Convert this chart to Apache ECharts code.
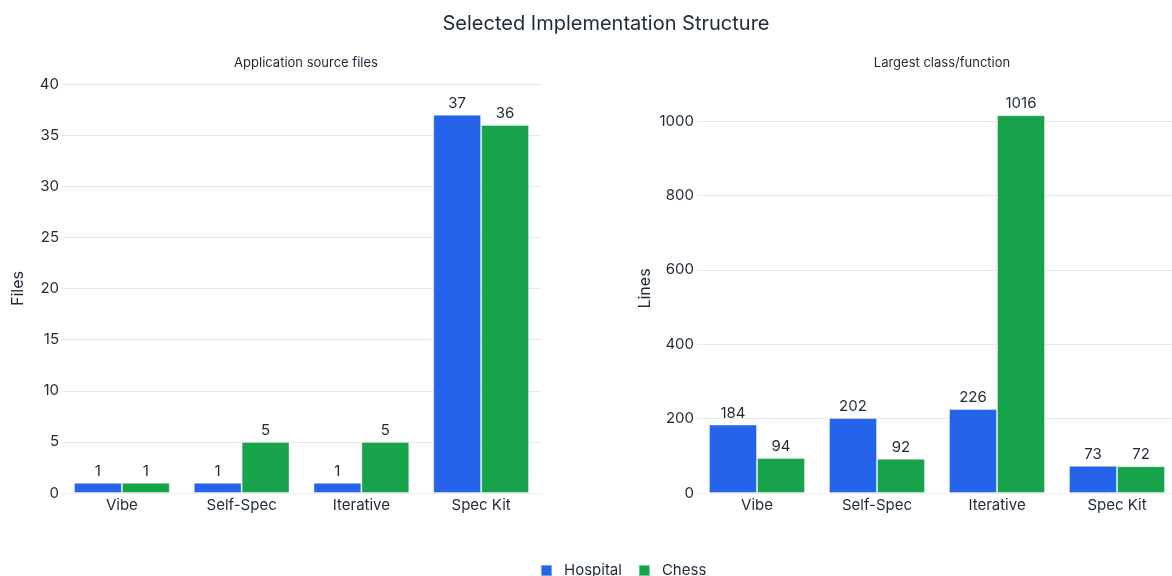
<!DOCTYPE html>
<html>
<head>
<meta charset="utf-8">
<script src="https://cdn.jsdelivr.net/npm/echarts@6/dist/echarts.min.js"></script>
<style>
  html, body { margin: 0; padding: 0; background: #ffffff; overflow: hidden; }
  #chart { width: 1180px; height: 576px; }
</style>
</head>
<body>
<div id="chart"></div>
<script>
// Implementation approaches compared
const categories = ['Vibe', 'Self-Spec', 'Iterative', 'Spec Kit'];

// Application source files per approach
const filesHospital = [1, 1, 1, 37];
const filesChess = [1, 5, 5, 36];

// Lines in the largest class/function
const linesHospital = [184, 202, 226, 73];
const linesChess = [94, 92, 1016, 72];

const BLUE = '#2563eb';
const GREEN = '#16a34a';
const TEXT = '#1f2937';
const FONT = 'Inter, "Noto Sans", sans-serif';

const chart = echarts.init(document.getElementById('chart'), null, { renderer: 'canvas' });

function barSeries(name, data, color, idx) {
  return {
    name: name,
    type: 'bar',
    xAxisIndex: idx,
    yAxisIndex: idx,
    data: data,
    barGap: '0%',
    barCategoryGap: '20%',
    itemStyle: { color: color, borderColor: 'rgba(255,255,255,0.4)', borderWidth: 1 },
    label: {
      show: true,
      position: 'top',
      distance: 4,
      color: TEXT,
      fontFamily: FONT,
      fontSize: 15
    }
  };
}

function yAxis(idx, name, max, interval, nameGap) {
  const exact = max % interval === 0;
  return {
    type: 'value',
    gridIndex: idx,
    min: 0,
    max: max,
    interval: interval,
    name: name,
    nameLocation: 'middle',
    nameGap: nameGap,
    nameRotate: 90,
    nameTextStyle: { color: TEXT, fontFamily: FONT, fontSize: 16 },
    axisLine: { show: false },
    axisTick: { show: false },
    axisLabel: {
      color: TEXT, fontFamily: FONT, fontSize: 15, margin: 3,
      showMaxLabel: exact,
      formatter: function (v) { return String(v); }
    },
    splitLine: { show: true, showMinLine: false, showMaxLine: exact, lineStyle: { color: '#e8e9ec', width: 1 } }
  };
}

function xAxis(idx) {
  return {
    type: 'category',
    gridIndex: idx,
    data: categories,
    axisLine: { show: true, lineStyle: { color: '#eceef1' } },
    axisTick: { show: false },
    axisLabel: { color: TEXT, fontFamily: FONT, fontSize: 15, margin: 5 }
  };
}

chart.setOption({
  backgroundColor: '#ffffff',
  animation: false,
  textStyle: { fontFamily: FONT },
  title: [
    { text: 'Selected Implementation Structure', left: 601, top: 9, textAlign: 'center',
      textStyle: { color: TEXT, fontFamily: FONT, fontSize: 20, fontWeight: 'normal' } },
    { text: 'Application source files', left: 301, top: 52, textAlign: 'center',
      textStyle: { color: TEXT, fontFamily: FONT, fontSize: 13, fontWeight: 'normal' } },
    { text: 'Largest class/function', left: 937, top: 52, textAlign: 'center',
      textStyle: { color: TEXT, fontFamily: FONT, fontSize: 13, fontWeight: 'normal' } }
  ],
  legend: {
    top: 558,
    left: 535,
    icon: 'rect',
    itemWidth: 11,
    itemHeight: 11,
    itemGap: 16,
    textStyle: { color: TEXT, fontFamily: FONT, fontSize: 15, padding: [0, 0, 0, 7] },
    data: ['Hospital', 'Chess']
  },
  grid: [
    { left: 62, top: 84, width: 479, height: 409 },
    { left: 697, top: 84, width: 480, height: 409 }
  ],
  xAxis: [xAxis(0), xAxis(1)],
  yAxis: [yAxis(0, 'Files', 40, 5, 36), yAxis(1, 'Lines', 1100, 200, 44)],
  series: [
    barSeries('Hospital', filesHospital, BLUE, 0),
    barSeries('Chess', filesChess, GREEN, 0),
    barSeries('Hospital', linesHospital, BLUE, 1),
    barSeries('Chess', linesChess, GREEN, 1)
  ]
});
</script>
</body>
</html>
